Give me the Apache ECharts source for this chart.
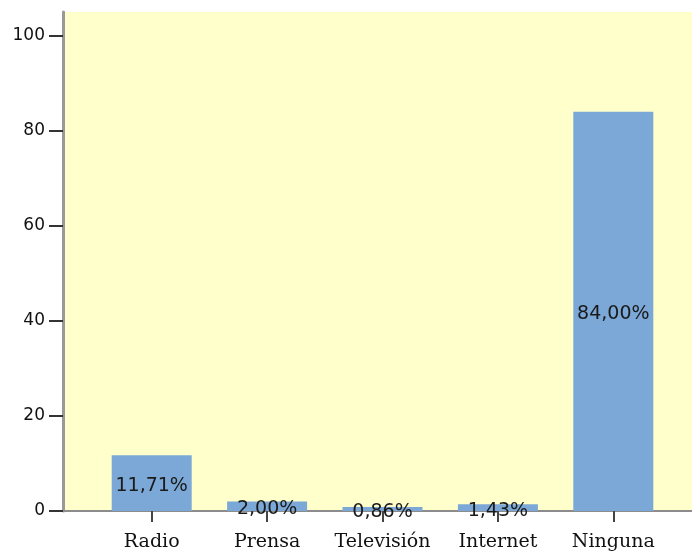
<!DOCTYPE html>
<html>
<head>
<meta charset="utf-8">
<script src="https://cdn.jsdelivr.net/npm/echarts@6/dist/echarts.min.js"></script>
<style>
  html, body { margin: 0; padding: 0; background: #ffffff; }
  #chart { width: 692px; height: 552px; }
</style>
</head>
<body>
<div id="chart"></div>
<script>
// Medio de comunicación: porcentaje de respuestas
const categories = ['Radio', 'Prensa', 'Televisión', 'Internet', 'Ninguna'];
const percentValues = [11.71, 2.00, 0.86, 1.43, 84.00];
const yTicks = [0, 20, 40, 60, 80, 100];

const yMin = 0;
const yMax = 105;

const chart = echarts.init(document.getElementById('chart'), null, { renderer: 'canvas' });

const option = {
  backgroundColor: '#ffffff',
  animation: false,
  grid: [
    // frame with background and value axis
    { left: 63, right: 0, top: 12, bottom: 41, show: true, backgroundColor: '#FFFFCC', borderWidth: 0 },
    // band for the categories
    { left: 94, width: 577, top: 12, bottom: 41 }
  ],
  xAxis: [
    {
      gridIndex: 0, type: 'value', min: 0, max: 1,
      axisLine: { show: true, lineStyle: { color: '#8c8c8c', width: 2 } },
      axisTick: { show: false }, axisLabel: { show: false }, splitLine: { show: false }
    },
    {
      gridIndex: 1, type: 'category', data: categories,
      axisLine: { show: false },
      axisTick: { show: true, alignWithLabel: true, length: 11, lineStyle: { color: '#444444', width: 2 } },
      axisLabel: { interval: 0, color: '#111111', fontFamily: 'DejaVu Serif', fontSize: 19, margin: 22 },
      splitLine: { show: false }
    }
  ],
  yAxis: [
    {
      gridIndex: 0, type: 'value', min: yMin, max: yMax,
      axisLine: { show: true, lineStyle: { color: '#999999', width: 3 } },
      axisTick: { show: true, length: 14, customValues: yTicks, lineStyle: { color: '#333333', width: 2 } },
      axisLabel: {
        color: '#111111', fontFamily: 'DejaVu Sans', fontSize: 17, margin: 18,
        customValues: yTicks
      },
      splitLine: { show: false }
    },
    {
      gridIndex: 1, type: 'value', min: yMin, max: yMax, show: false
    }
  ],
  series: [
    {
      type: 'bar',
      xAxisIndex: 1, yAxisIndex: 1,
      data: percentValues,
      barWidth: 80,
      itemStyle: { color: '#7BA8D6' },
      label: {
        show: true, position: 'inside', offset: [0, 3],
        color: '#1a1a1a', fontFamily: 'DejaVu Sans', fontSize: 19,
        formatter: function (p) { return p.value.toFixed(2).replace('.', ',') + '%'; }
      }
    }
  ]
};

chart.setOption(option);
</script>
</body>
</html>
